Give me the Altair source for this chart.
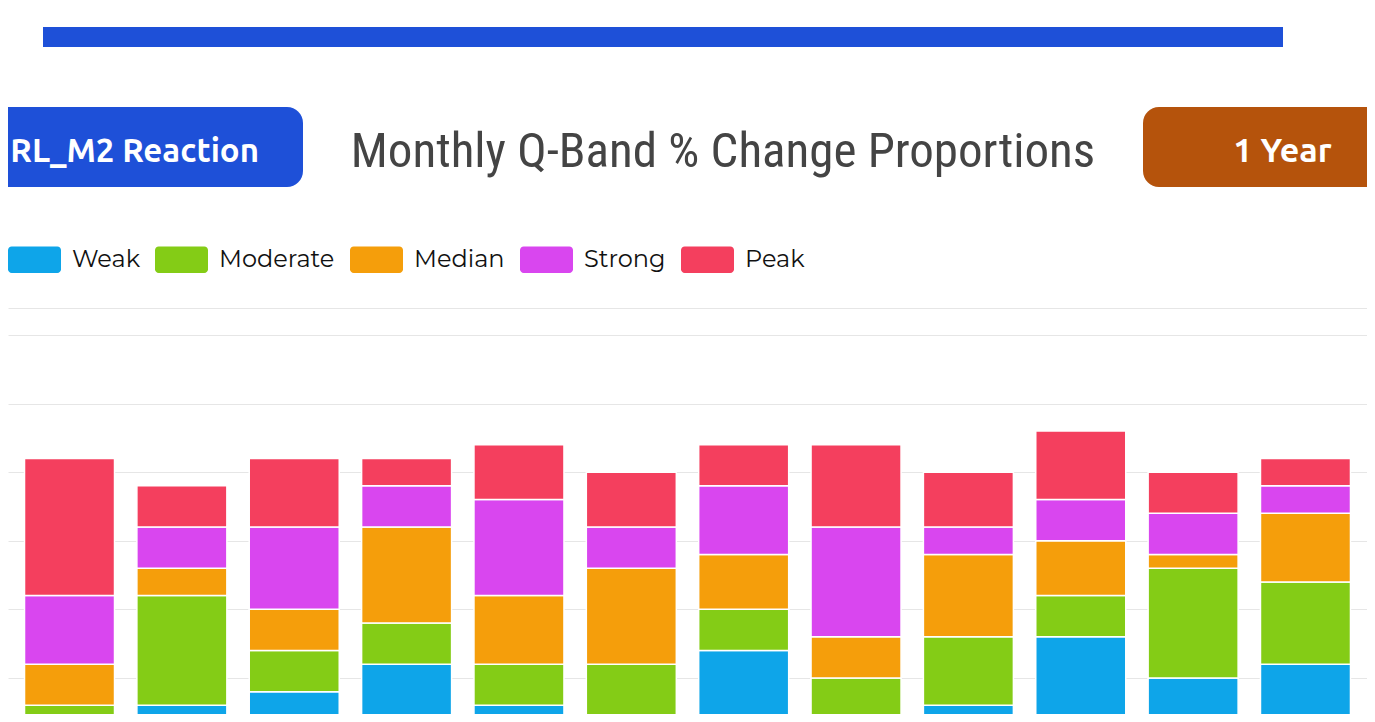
import altair as alt
import pandas as pd

# ---- data ----
months = ["Jan", "Feb", "Mar", "Apr", "May", "Jun", "Jul", "Aug", "Sep", "Oct", "Nov", "Dec"]
bands = ["Weak", "Moderate", "Median", "Strong", "Peak"]
weak = [2, 3, 4, 6, 3, 2, 7, 2, 3, 8, 5, 6]
moderate = [1, 8, 3, 3, 3, 4, 3, 3, 5, 3, 8, 6]
median = [3, 2, 3, 7, 5, 7, 4, 3, 6, 4, 1, 5]
strong = [5, 3, 6, 3, 7, 3, 5, 8, 2, 3, 3, 2]
peak = [10, 3, 5, 2, 4, 4, 3, 6, 4, 5, 3, 2]
colors = ["#0ea5e9", "#84cc16", "#f59e0b", "#d946ef", "#f43f5e"]
grid_values = [0, 5, 10, 15, 20, 25, 30, 32]

title_text = "Monthly Q-Band % Change Proportions"
left_button = "RL_M2 Reaction"
right_button = "1 Year"

series = [weak, moderate, median, strong, peak]
rows = []
for bi, (b, vals) in enumerate(zip(bands, series)):
    for m, v in zip(months, vals):
        rows.append({"month": m, "band": b, "idx": bi, "value": v})
df = pd.DataFrame(rows)

W, H = 1359, 706
swatch = "M-0.86,-0.5H0.86A0.14,0.14 0 0 1 1,-0.36V0.36A0.14,0.14 0 0 1 0.86,0.5H-0.86A0.14,0.14 0 0 1 -1,0.36V-0.36A0.14,0.14 0 0 1 -0.86,-0.5Z"

bars = alt.Chart(df).mark_bar(stroke="white", strokeWidth=1.5, opacity=1).encode(
    x=alt.X("month:N", sort=months, axis=None,
            scale=alt.Scale(paddingInner=0.199, paddingOuter=0.147)),
    y=alt.Y("value:Q", stack="zero",
            scale=alt.Scale(domain=[0, 32], range=[738.5, 299.5], nice=False, zero=True),
            axis=alt.Axis(values=grid_values, grid=True, labels=False, ticks=False,
                          domain=False, title=None, gridColor="#e6e6e6", gridWidth=1)),
    color=alt.Color("band:N", scale=alt.Scale(domain=bands, range=colors),
                    legend=alt.Legend(title=None, orient="none", legendX=0, legendY=225,
                                      direction="horizontal", symbolType=swatch,
                                      symbolSize=2809, symbolStrokeWidth=0, symbolOpacity=1,
                                      labelFont="Montserrat, DejaVu Sans", labelFontSize=24,
                                      labelColor="#111111", labelOffset=11, columnPadding=15,
                                      padding=0)),
    order=alt.Order("idx:Q", sort="ascending"),
)

one = pd.DataFrame({"k": [0]})
base = alt.Chart(one)

top_bar = base.mark_rect(color="#1e50d8").encode(
    x=alt.value(35), x2=alt.value(1275), y=alt.value(19), y2=alt.value(39))
left_btn = base.mark_rect(color="#1e50d8", cornerRadius=16).encode(
    x=alt.value(-40), x2=alt.value(295), y=alt.value(99), y2=alt.value(179))
right_btn = base.mark_rect(color="#b5530c", cornerRadius=16).encode(
    x=alt.value(1135), x2=alt.value(1420), y=alt.value(99), y2=alt.value(179))
left_txt = base.mark_text(text=left_button, align="right", baseline="alphabetic",
                          font="Ubuntu, Noto Sans", fontSize=33, fontWeight="bold",
                          color="white").encode(x=alt.value(251), y=alt.value(154))
right_txt = base.mark_text(text=right_button, align="center", baseline="alphabetic",
                           font="Ubuntu, Noto Sans", fontSize=34, fontWeight="bold",
                           color="white").encode(x=alt.value(1274.5), y=alt.value(154))
title = base.mark_text(text=title_text, align="center", baseline="alphabetic",
                       font="Roboto Condensed, Liberation Sans Narrow, Roboto", fontSize=49,
                       color="#444444").encode(x=alt.value(715), y=alt.value(159))

chart = alt.layer(bars, top_bar, left_btn, right_btn, left_txt, right_txt, title).properties(
    width=W, height=H, padding=0,
    autosize=alt.AutoSizeParams(type="none"),
    background="white",
).configure_view(stroke=None)

chart.save("out.html", embed_options={"renderer": "svg", "actions": False})
